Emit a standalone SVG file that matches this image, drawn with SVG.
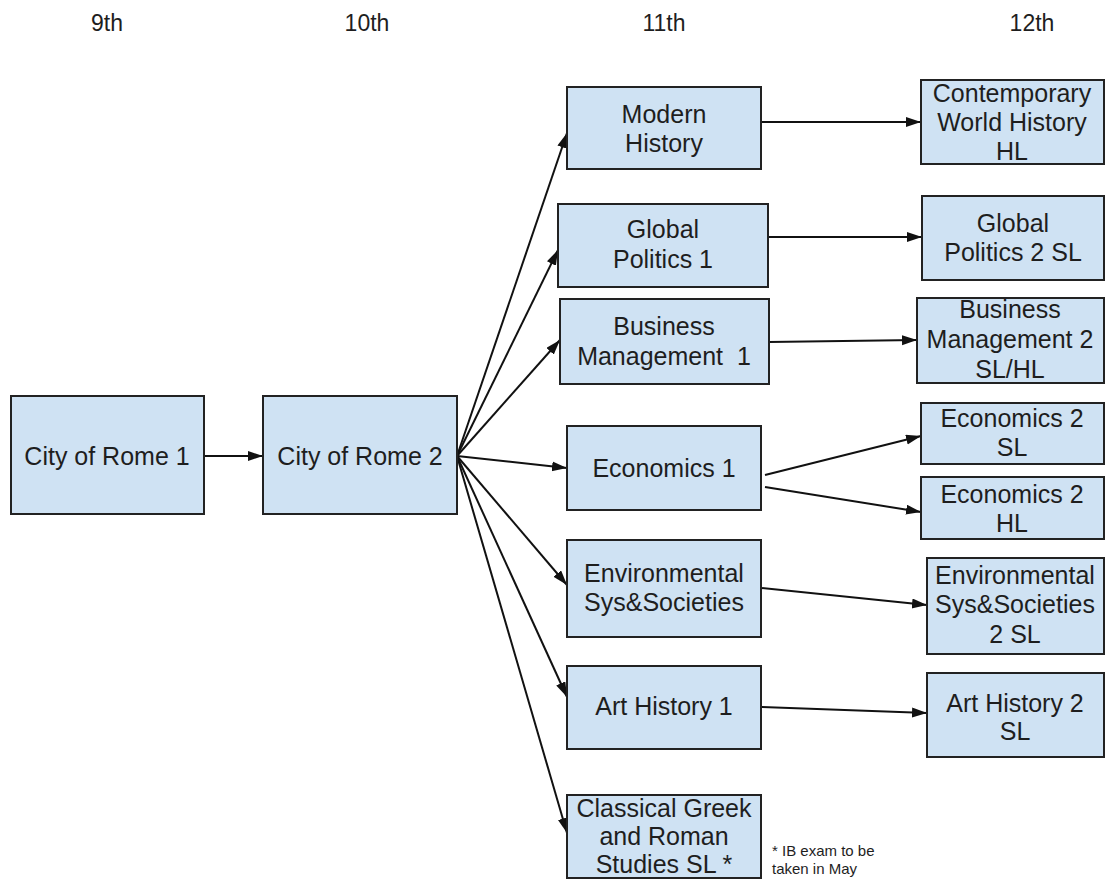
<svg xmlns="http://www.w3.org/2000/svg" width="1112" height="879" viewBox="0 0 1112 879">
<style>
.box{fill:#cfe2f3;stroke:#222;stroke-width:2}
.t{font-family:"Liberation Sans",Arial,sans-serif;font-size:25px;fill:#1e1e1e;text-anchor:middle}
.h{font-family:"Liberation Sans",Arial,sans-serif;font-size:23px;fill:#1e1e1e;text-anchor:middle}
.n{font-family:"Liberation Sans",Arial,sans-serif;font-size:15px;fill:#1e1e1e}
.c{stroke:#111;stroke-width:2;fill:none;marker-end:url(#ah)}
</style>
<defs>
<marker id="ah" markerUnits="userSpaceOnUse" markerWidth="16" markerHeight="12" refX="15" refY="5" orient="auto">
<path d="M0,0 L15,5 L0,10 z" fill="#111"/>
</marker>
</defs>
<rect width="1112" height="879" fill="#fff"/>
<g id="headers">
<text class="h" x="107" y="31">9th</text>
<text class="h" x="367" y="31">10th</text>
<text class="h" x="664" y="31">11th</text>
<text class="h" x="1032" y="31">12th</text>
</g>
<g id="connectors">
<line class="c" x1="204" y1="456" x2="263" y2="456"/>
<line class="c" x1="457" y1="456" x2="567" y2="133"/>
<line class="c" x1="457" y1="456" x2="558" y2="250"/>
<line class="c" x1="457" y1="456" x2="560" y2="340"/>
<line class="c" x1="457" y1="456" x2="567" y2="468"/>
<line class="c" x1="457" y1="456" x2="567" y2="585"/>
<line class="c" x1="457" y1="456" x2="567" y2="697"/>
<line class="c" x1="457" y1="456" x2="567" y2="833"/>
<line class="c" x1="761" y1="122" x2="921" y2="122"/>
<line class="c" x1="768" y1="237" x2="922" y2="237"/>
<line class="c" x1="769" y1="342" x2="917" y2="340"/>
<line class="c" x1="765" y1="475" x2="921" y2="436"/>
<line class="c" x1="765" y1="487" x2="921" y2="512"/>
<line class="c" x1="761" y1="588" x2="927" y2="605"/>
<line class="c" x1="761" y1="707" x2="927" y2="713"/>
</g>
<g id="cor1"><rect class="box" x="11" y="396" width="193" height="118"/><text class="t" x="107" y="465">City of Rome 1</text></g>
<g id="cor2"><rect class="box" x="263" y="396" width="194" height="118"/><text class="t" x="360" y="465">City of Rome 2</text></g>
<g id="modern"><rect class="box" x="567" y="87" width="194" height="82"/><text class="t" x="664" y="123">Modern</text><text class="t" x="664" y="152">History</text></g>
<g id="contemporary"><rect class="box" x="921" y="80" width="183" height="84"/><text class="t" x="1012" y="102">Contemporary</text><text class="t" x="1012" y="131">World History</text><text class="t" x="1012" y="160">HL</text></g>
<g id="gp1"><rect class="box" x="558" y="204" width="210" height="83"/><text class="t" x="663" y="238">Global</text><text class="t" x="663" y="268">Politics 1</text></g>
<g id="gp2"><rect class="box" x="922" y="196" width="182" height="84"/><text class="t" x="1013" y="232">Global</text><text class="t" x="1013" y="261">Politics 2 SL</text></g>
<g id="bm1"><rect class="box" x="560" y="299" width="209" height="85"/><text class="t" x="664" y="335">Business</text><text class="t" x="664" y="365" xml:space="preserve">Management  1</text></g>
<g id="bm2"><rect class="box" x="917" y="298" width="187" height="85"/><text class="t" x="1010" y="318">Business</text><text class="t" x="1010" y="348">Management 2</text><text class="t" x="1010" y="378">SL/HL</text></g>
<g id="econ1"><rect class="box" x="567" y="426" width="194" height="84"/><text class="t" x="664" y="477">Economics 1</text></g>
<g id="econ2sl"><rect class="box" x="921" y="403" width="183" height="61"/><text class="t" x="1012" y="427">Economics 2</text><text class="t" x="1012" y="456">SL</text></g>
<g id="econ2hl"><rect class="box" x="921" y="477" width="183" height="62"/><text class="t" x="1012" y="503">Economics 2</text><text class="t" x="1012" y="532">HL</text></g>
<g id="ess1"><rect class="box" x="567" y="540" width="194" height="97"/><text class="t" x="664" y="582">Environmental</text><text class="t" x="664" y="611">Sys&amp;Societies</text></g>
<g id="ess2"><rect class="box" x="927" y="558" width="177" height="96"/><text class="t" x="1015" y="584">Environmental</text><text class="t" x="1015" y="613">Sys&amp;Societies</text><text class="t" x="1015" y="643">2 SL</text></g>
<g id="ah1"><rect class="box" x="567" y="666" width="194" height="83"/><text class="t" x="664" y="715">Art History 1</text></g>
<g id="ah2"><rect class="box" x="927" y="673" width="177" height="84"/><text class="t" x="1015" y="712">Art History 2</text><text class="t" x="1015" y="740">SL</text></g>
<g id="classical"><rect class="box" x="567" y="795" width="194" height="83"/><text class="t" x="664" y="817">Classical Greek</text><text class="t" x="664" y="845">and Roman</text><text class="t" x="664" y="873">Studies SL *</text></g>
<g id="note"><text class="n" x="772" y="856">* IB exam to be</text><text class="n" x="772" y="874">taken in May</text></g>
</svg>
